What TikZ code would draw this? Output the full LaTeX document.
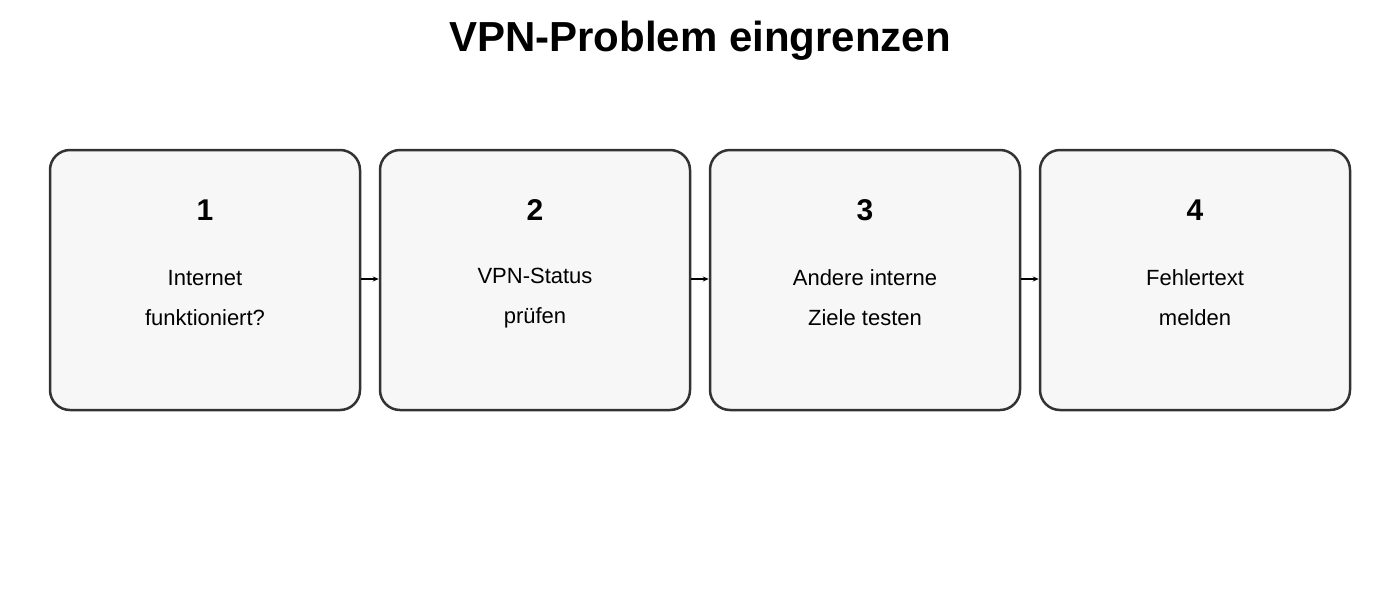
\documentclass[tikz,border=0pt]{standalone}
\usepackage{fontspec}
\setmainfont{Liberation Sans}
\usetikzlibrary{arrows.meta}
\definecolor{edge}{HTML}{333333}
\definecolor{boxfill}{HTML}{F7F7F7}
\begin{document}
\begin{tikzpicture}[x=1pt,y=-1pt,
  box/.style={draw=edge,fill=boxfill,line width=2.5pt,rounded corners=20pt,minimum width=310pt,minimum height=260pt,inner sep=0pt},
  num/.style={font=\fontsize{30}{36}\selectfont\bfseries},
  txt/.style={font=\fontsize{22}{40}\selectfont,align=center},
  arr/.style={-{Stealth[length=6pt,width=5pt]},line width=1.2pt}]
\useasboundingbox (0,0) rectangle (1400,600);
\node[font=\fontsize{42}{50}\selectfont\bfseries] (title) at (700,41) {VPN-Problem eingrenzen};
\foreach \i/\x/\a/\b in {1/205/Internet/funktioniert?,2/535/VPN-Status/prüfen,3/865/Andere interne/Ziele testen,4/1195/Fehlertext/melden}{
  \node[box] (b\i) at (\x,280) {};
  \node[num] (n\i) at (\x,210) {\i};
  \node[txt] (t\i) at (\x,298) {\a\\\b};
}
\draw[arr] (b1.east |- 0,279) -- (b2.west |- 0,279);
\draw[arr] (b2.east |- 0,279) -- (b3.west |- 0,279);
\draw[arr] (b3.east |- 0,279) -- (b4.west |- 0,279);
\end{tikzpicture}
\end{document}
